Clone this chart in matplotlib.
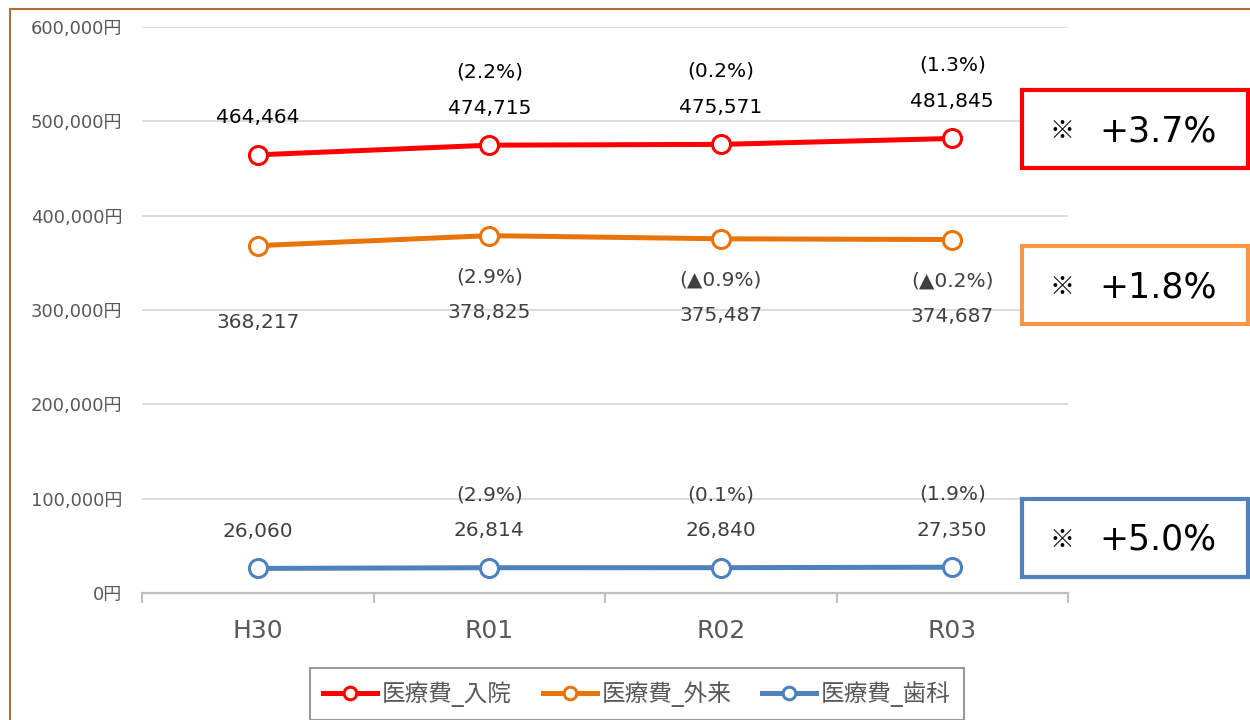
import matplotlib
matplotlib.use("Agg")
import matplotlib.pyplot as plt
from matplotlib.patches import Rectangle

plt.rcParams['font.family'] = ['DejaVu Sans', 'Noto Sans CJK JP']

# data
years = ["H30", "R01", "R02", "R03"]
nyuin = [464464, 474715, 475571, 481845]
gairai = [368217, 378825, 375487, 374687]
shika = [26060, 26814, 26840, 27350]
nyuin_pct = ["", "(2.2%)", "(0.2%)", "(1.3%)"]
gairai_pct = ["", "(2.9%)", "(▲0.9%)", "(▲0.2%)"]
shika_pct = ["", "(2.9%)", "(0.1%)", "(1.9%)"]
names = ["医療費_入院", "医療費_外来", "医療費_歯科"]
growth = ["+3.7%", "+1.8%", "+5.0%"]
yticks = [0, 100000, 200000, 300000, 400000, 500000, 600000]

colors = ["#FF0000", "#E8740C", "#4F81BD"]
box_colors = ["#FF0000", "#F79646", "#4F81BD"]

fig = plt.figure(figsize=(12.5, 7.2), dpi=100)
ax = fig.add_axes([142 / 1250, 1 - 593 / 720, 926 / 1250, 566 / 720])

x = list(range(len(years)))
for vals, c, name in zip([nyuin, gairai, shika], colors, names):
    ax.plot(x, vals, color=c, lw=3.6, marker="o", ms=13, mfc="white",
            mec=c, mew=2.2, label=name, zorder=3)

# data labels
def labels(vals, pcts, up, color):
    for i, v in enumerate(vals):
        ax.annotate(f"{v:,}", (i, v), xytext=(0, 37 if up else -77),
                    textcoords="offset pixels", ha="center", va="center",
                    fontsize=14.5, color=color)
        if pcts[i]:
            ax.annotate(pcts[i], (i, v), xytext=(0, 73 if up else -41),
                        textcoords="offset pixels", ha="center", va="center",
                        fontsize=14.5, color=color)

labels(nyuin, nyuin_pct, True, "#000000")
labels(gairai, gairai_pct, False, "#404040")
labels(shika, shika_pct, True, "#404040")

ax.set_xlim(-0.5, 3.5)
ax.set_ylim(0, 600000)
ax.set_yticks(yticks)
ax.set_yticklabels([f"{v:,}円" for v in yticks], fontsize=13, color="#595959")
ax.tick_params(axis="y", length=0, pad=14)
ax.grid(axis="y", color="#D9D9D9", lw=1.3)
ax.set_axisbelow(True)

ax.set_xticks(x)
ax.set_xticklabels(years, fontsize=18, color="#595959")
ax.set_xticks([-0.5, 0.5, 1.5, 2.5, 3.5], minor=True)
ax.tick_params(axis="x", which="major", length=0, pad=19)
ax.tick_params(axis="x", which="minor", length=7, width=1.5, color="#BFBFBF")

for sp in ["left", "right", "top"]:
    ax.spines[sp].set_visible(False)
ax.spines["bottom"].set_color("#BFBFBF")
ax.spines["bottom"].set_linewidth(1.6)

leg = fig.legend(loc="center", bbox_to_anchor=(637 / 1250, 1 - 694 / 720),
                 ncol=3, fontsize=17, frameon=True, fancybox=False,
                 edgecolor="#808080", handlelength=2.3, handletextpad=0.2,
                 columnspacing=1.3, borderpad=0.55, markerscale=0.7)
leg.get_frame().set_linewidth(1.5)
for t in leg.get_texts():
    t.set_color("#595959")

# outer border
fig.patches.append(Rectangle((10 / 1250, -0.1), 1.5, 1.1 - 9 / 720,
                             transform=fig.transFigure, fill=False,
                             edgecolor="#B56F36", lw=1.5))

# growth boxes
tops = [90, 246, 499]
for top, bc, g in zip(tops, box_colors, growth):
    fig.patches.append(Rectangle((1022 / 1250, 1 - (top + 78) / 720),
                                 226 / 1250, 78 / 720,
                                 transform=fig.transFigure, facecolor="white",
                                 edgecolor=bc, lw=3))
    yc = 1 - (top + 41) / 720
    fig.text(1062 / 1250, yc, "※", ha="center", va="center", fontsize=18,
             color="black", family="Noto Sans CJK JP")
    fig.text(1158 / 1250, yc, g, ha="center", va="center", fontsize=25,
             color="black")

fig.savefig("out.png", dpi=100)
